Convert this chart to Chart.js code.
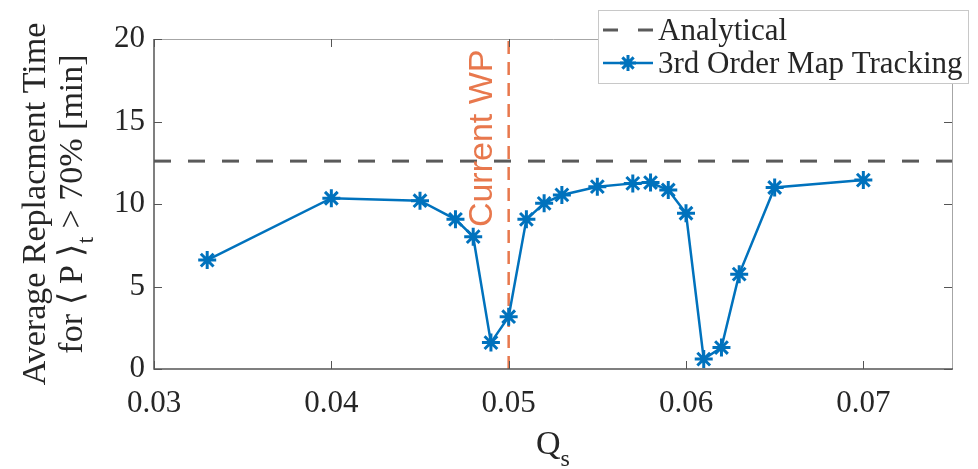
<!DOCTYPE html>
<html>
<head>
<meta charset="utf-8">
<script src="https://cdn.jsdelivr.net/npm/chart.js@4.4.1/dist/chart.umd.min.js"></script>
<style>
  html, body { margin: 0; padding: 0; background: #fff; }
  #chart { display: block; }
</style>
</head>
<body>
<canvas id="chart" width="978" height="469"></canvas>
<script>
// Q_s values and averaged replacement time (min)
const qs = [0.033, 0.04, 0.045, 0.047, 0.048, 0.049, 0.05, 0.051, 0.052, 0.053,
            0.055, 0.057, 0.058, 0.059, 0.06, 0.061, 0.062, 0.063, 0.065, 0.07];
const replTime = [6.6, 10.35, 10.2, 9.07, 8.02, 1.6, 3.17, 9.07, 10.04, 10.55,
                  11.05, 11.25, 11.3, 10.85, 9.44, 0.6, 1.3, 5.75, 11.0, 11.45];

// analytical reference (horizontal line)
const analyticX = [0.03, 0.075];
const analyticY = [12.6, 12.6];

// current working point
const wpX = [0.05, 0.05];
const wpY = [0, 20];

const xTicks = [0.03, 0.04, 0.05, 0.06, 0.07];
const yTicks = [0, 5, 10, 15, 20];

const BLUE = '#0072BD';
const ORANGE = '#E8784D';
const GREY = '#5a5a5a';
const TEXT = '#262626';
const SERIF = '"Liberation Serif", "Times New Roman", serif';
const SANS = '"Liberation Sans", Arial, Helvetica, sans-serif';

const toPoints = (xs, ys) => xs.map((x, i) => ({ x, y: ys[i] }));

// axes box, inward ticks, titles, annotation and legend
const overlayPlugin = {
    id: 'overlay',
    afterDatasetsDraw(chart) {
        const ctx = chart.ctx;
        const { left, right, top, bottom } = chart.chartArea;
        const xs = chart.scales.x;
        const ys = chart.scales.y;

        ctx.save();

        // box
        ctx.lineWidth = 1;
        ctx.strokeStyle = '#a6a6a6';
        ctx.beginPath();
        ctx.moveTo(left, top + 0.5);
        ctx.lineTo(right + 0.5, top + 0.5);
        ctx.lineTo(right + 0.5, bottom);
        ctx.stroke();

        ctx.strokeStyle = '#555';
        ctx.lineWidth = 1.5;
        ctx.beginPath();
        ctx.moveTo(left, top);
        ctx.lineTo(left, bottom);
        ctx.lineTo(right + 1, bottom);
        ctx.stroke();

        // inward ticks
        const tl = 8;
        ctx.lineWidth = 1;
        ctx.strokeStyle = '#555';
        ctx.beginPath();
        xTicks.forEach(v => {
            const px = Math.round(xs.getPixelForValue(v)) + 0.5;
            ctx.moveTo(px, bottom);
            ctx.lineTo(px, bottom - tl);
            ctx.moveTo(px, top);
            ctx.lineTo(px, top + tl);
        });
        yTicks.forEach(v => {
            const py = Math.round(ys.getPixelForValue(v)) + 0.5;
            ctx.moveTo(left, py);
            ctx.lineTo(left + tl, py);
            ctx.moveTo(right, py);
            ctx.lineTo(right - tl, py);
        });
        ctx.stroke();

        // "Current WP" annotation
        ctx.save();
        ctx.fillStyle = ORANGE;
        ctx.font = '34px ' + SANS;
        ctx.translate(xs.getPixelForValue(wpX[0]) - 17, ys.getPixelForValue(8.6));
        ctx.rotate(-Math.PI / 2);
        ctx.textAlign = 'left';
        ctx.textBaseline = 'alphabetic';
        ctx.fillText('Current WP', 0, 0);
        ctx.restore();

        // y axis title (two lines, subscript t)
        const cy = (top + bottom) / 2;
        ctx.save();
        ctx.fillStyle = TEXT;
        ctx.translate(0, cy);
        ctx.rotate(-Math.PI / 2);
        ctx.textBaseline = 'alphabetic';
        ctx.textAlign = 'center';
        ctx.font = '34px ' + SERIF;
        ctx.fillText('Average Replacment Time', 0, 45);

        const partA = 'for \u27E8 P \u27E9';
        const partB = 't';
        const partC = ' > 70% [min]';
        ctx.font = '34px ' + SERIF;
        const wA = ctx.measureText(partA).width;
        const wC = ctx.measureText(partC).width;
        ctx.font = '24px ' + SERIF;
        const wB = ctx.measureText(partB).width;
        let sx = -(wA + wB + wC) / 2;
        ctx.textAlign = 'left';
        ctx.font = '34px ' + SERIF;
        ctx.fillText(partA, sx, 82);
        sx += wA;
        ctx.font = '24px ' + SERIF;
        ctx.fillText(partB, sx, 93);
        sx += wB;
        ctx.font = '34px ' + SERIF;
        ctx.fillText(partC, sx, 82);
        ctx.restore();

        // x axis title Q_s
        ctx.save();
        ctx.fillStyle = TEXT;
        ctx.textBaseline = 'alphabetic';
        ctx.textAlign = 'left';
        ctx.font = '34px ' + SERIF;
        const wQ = ctx.measureText('Q').width;
        ctx.font = '24px ' + SERIF;
        const wS = ctx.measureText('s').width;
        const qx = (left + right) / 2 - (wQ + wS) / 2;
        ctx.font = '34px ' + SERIF;
        ctx.fillText('Q', qx, 454);
        ctx.font = '24px ' + SERIF;
        ctx.fillText('s', qx + wQ, 466);
        ctx.restore();

        // legend
        const lx = 598, ly = 10, lw = 370, lh = 73;
        ctx.fillStyle = '#fff';
        ctx.fillRect(lx, ly, lw, lh);
        ctx.strokeStyle = '#c8c8c8';
        ctx.lineWidth = 1;
        ctx.strokeRect(lx + 0.5, ly + 0.5, lw, lh);

        const row1 = 30, row2 = 63;
        ctx.strokeStyle = GREY;
        ctx.lineWidth = 3;
        ctx.setLineDash([15, 20]);
        ctx.beginPath();
        ctx.moveTo(603, row1);
        ctx.lineTo(655, row1);
        ctx.stroke();
        ctx.setLineDash([]);

        ctx.strokeStyle = BLUE;
        ctx.lineWidth = 2.5;
        ctx.beginPath();
        ctx.moveTo(603, row2);
        ctx.lineTo(653, row2);
        ctx.stroke();
        // star marker in the legend
        const r = 8, mx = 628;
        ctx.lineWidth = 3;
        ctx.beginPath();
        for (let k = 0; k < 4; k++) {
            const a = k * Math.PI / 4;
            ctx.moveTo(mx - r * Math.cos(a), row2 - r * Math.sin(a));
            ctx.lineTo(mx + r * Math.cos(a), row2 + r * Math.sin(a));
        }
        ctx.stroke();

        ctx.fillStyle = TEXT;
        ctx.font = '31px ' + SERIF;
        ctx.textAlign = 'left';
        ctx.textBaseline = 'alphabetic';
        ctx.fillText('Analytical', 658, 40);
        ctx.fillText('3rd Order Map Tracking', 658, 73);

        ctx.restore();
    }
};

new Chart(document.getElementById('chart'), {
    type: 'scatter',
    data: {
        datasets: [
            {
                label: 'Analytical',
                data: toPoints(analyticX, analyticY),
                showLine: true,
                borderColor: GREY,
                borderWidth: 3,
                borderDash: [17, 17],
                pointRadius: 0,
                order: 3
            },
            {
                label: 'Current WP',
                data: toPoints(wpX, wpY),
                showLine: true,
                borderColor: ORANGE,
                borderWidth: 2.5,
                borderDash: [13, 8],
                pointRadius: 0,
                order: 2
            },
            {
                label: '3rd Order Map Tracking',
                data: toPoints(qs, replTime),
                showLine: true,
                borderColor: BLUE,
                backgroundColor: BLUE,
                borderWidth: 2.5,
                pointStyle: 'star',
                pointRadius: 9,
                pointBorderWidth: 3,
                pointBorderColor: BLUE,
                order: 1
            }
        ]
    },
    options: {
        responsive: false,
        animation: false,
        layout: { padding: { left: 0, right: 26, top: 39, bottom: 0 } },
        plugins: {
            legend: { display: false },
            tooltip: { enabled: false }
        },
        scales: {
            x: {
                type: 'linear',
                min: 0.03,
                max: 0.075,
                afterBuildTicks: s => { s.ticks = xTicks.map(v => ({ value: v })); },
                afterFit: s => { s.height = 100; },
                grid: { display: false, drawTicks: false },
                border: { display: false },
                ticks: {
                    padding: 16,
                    color: TEXT,
                    font: { family: SERIF, size: 31 },
                    callback: v => v.toFixed(2)
                }
            },
            y: {
                min: 0,
                max: 20,
                afterBuildTicks: s => { s.ticks = yTicks.map(v => ({ value: v })); },
                afterFit: s => { s.width = 154; },
                grid: { display: false, drawTicks: false },
                border: { display: false },
                ticks: {
                    padding: 9,
                    color: TEXT,
                    font: { family: SERIF, size: 31 }
                }
            }
        }
    },
    plugins: [overlayPlugin]
});
</script>
</body>
</html>
